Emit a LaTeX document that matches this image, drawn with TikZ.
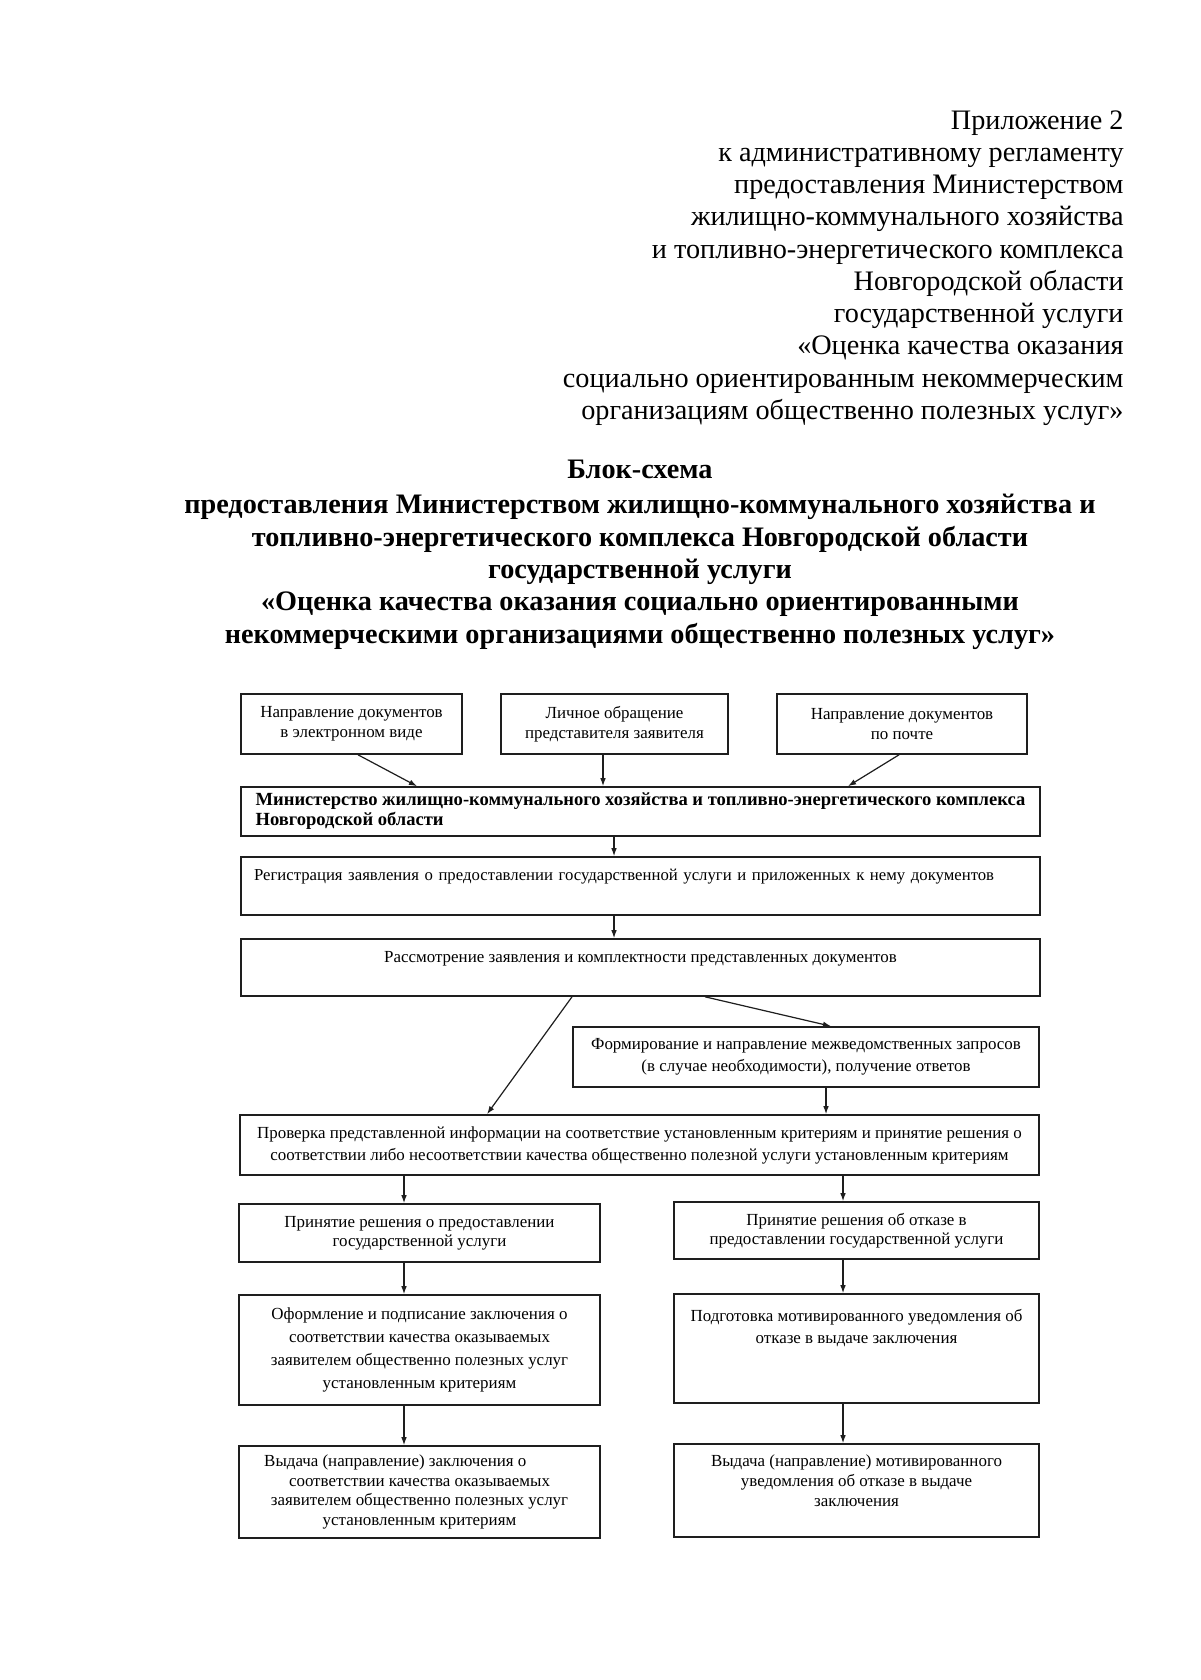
\documentclass[tikz,border=0pt]{standalone}
\usepackage{fontspec}
\setmainfont{Liberation Serif}
\usepackage{tikz}
\usetikzlibrary{arrows.meta}
\usepackage{xcolor}
\definecolor{myblack}{HTML}{1E1E1E}
\newcommand{\pxu}{0.4961pt}
\tikzset{every text node part/.style={align=center}}
\tikzstyle{block} = [draw=myblack, fill=white, inner sep=0pt, line width=0.8pt, font={\fontsize{8.4}{10.9}\selectfont}]
\tikzstyle{lefttext} = [every text node part/.style={align=left}]
\tikzstyle{ln} = [draw=myblack, line width=0.6pt, -{Latex[length=4pt, width=2.8pt]}]

\begin{document}
\begin{tikzpicture}[x=\pxu, y=-\pxu]
  \useasboundingbox (0,0) rectangle (1200,1680);
  % header
  \node[anchor=base east, inner sep=0pt, every text node part/.style={align=right}, font={\fontsize{14}{16}\selectfont}] (appx) at (1124,419.3)
    {Приложение 2\\к административному регламенту\\предоставления Министерством\\жилищно-коммунального хозяйства\\и топливно-энергетического комплекса\\Новгородской области\\государственной услуги\\«Оценка качества оказания\\социально ориентированным некоммерческим\\организациям общественно полезных услуг»};
  \node[anchor=base, inner sep=0pt, font={\bfseries\fontsize{14}{16}\selectfont}] (title) at (640,643)
    {Блок-схема\\[1.5pt]предоставления Министерством жилищно-коммунального хозяйства и\\топливно-энергетического комплекса Новгородской области\\государственной услуги\\«Оценка качества оказания социально ориентированными\\некоммерческими организациями общественно полезных услуг»};
  % incoming
  \node[block, minimum width=221*\pxu, minimum height=60*\pxu, font={\fontsize{8.4}{9.9}\selectfont}] (elect) at (351.5,724) {Направление документов\\в электронном виде};
  \node[block, minimum width=227*\pxu, minimum height=60*\pxu, font={\fontsize{8.4}{9.9}\selectfont}] (pers) at (614.5,724) {Личное обращение\\представителя заявителя};
  \node[block, minimum width=250*\pxu, minimum height=60*\pxu, font={\fontsize{8.4}{9.9}\selectfont}] (post) at (902,724) {Направление документов\\по почте};
  \node[block, lefttext, minimum width=799*\pxu, minimum height=49*\pxu, font={\bfseries\fontsize{9.2}{9.9}\selectfont}] (minist) at (640.5,811.5)
    {Министерство жилищно-коммунального хозяйства и топливно-энергетического комплекса\\Новгородской области};
  \node[block, lefttext, minimum width=799*\pxu, minimum height=58*\pxu, text width=773*\pxu, font={\fontsize{8.3}{10.9}\selectfont}] (reg) at (640.5,886)
    {Регистрация заявления о предоставлении государственной услуги и приложенных к нему документов\\~};
  \node[block, minimum width=799*\pxu, minimum height=57*\pxu] (review) at (640.5,967.5)
    {Рассмотрение заявления и комплектности представленных документов\\~};
  \node[block, minimum width=466*\pxu, minimum height=60*\pxu] (inter) at (806,1057)
    {Формирование и направление межведомственных запросов\\(в случае необходимости), получение ответов};
  \node[block, minimum width=799*\pxu, minimum height=60*\pxu] (check) at (639.5,1145)
    {Проверка представленной информации на соответствие установленным критериям и принятие решения о\\соответствии либо несоответствии качества общественно полезной услуги установленным критериям};
  % two branches
  \node[block, minimum width=361*\pxu, minimum height=58*\pxu, font={\fontsize{8.4}{9.5}\selectfont}] (grant) at (419.5,1233)
    {Принятие решения о предоставлении\\государственной услуги};
  \node[block, minimum width=365*\pxu, minimum height=57*\pxu, font={\fontsize{8.4}{9.5}\selectfont}] (refuse) at (856.5,1230.5)
    {Принятие решения об отказе в\\предоставлении государственной услуги};
  \node[block, minimum width=361*\pxu, minimum height=110*\pxu, font={\fontsize{8.4}{11.4}\selectfont}] (concl) at (419.5,1350)
    {Оформление и подписание заключения о\\соответствии качества оказываемых\\заявителем общественно полезных услуг\\установленным критериям};
  \node[block, minimum width=365*\pxu, minimum height=109*\pxu] (notice) at (856.5,1348.5)
    {Подготовка мотивированного уведомления об\\отказе в выдаче заключения\\~\\~};
  \node[block, minimum width=361*\pxu, minimum height=92*\pxu, font={\fontsize{8.4}{9.8}\selectfont}] (issue) at (419.5,1492)
    {Выдача (направление) заключения о\hspace*{24pt}\\соответствии качества оказываемых\\заявителем общественно полезных услуг\\установленным критериям};
  \node[block, minimum width=365*\pxu, minimum height=93*\pxu, font={\fontsize{8.4}{9.9}\selectfont}] (sendn) at (856.5,1490.5)
    {Выдача (направление) мотивированного\\уведомления об отказе в выдаче\\заключения\\~};
  % connectors
  \draw[ln] ([xshift=6.5*\pxu]elect.south) -- ([xshift=-223.5*\pxu]minist.north);
  \draw[ln] ([xshift=-11.5*\pxu]pers.south) -- ([xshift=-37.5*\pxu]minist.north);
  \draw[ln] ([xshift=-3*\pxu]post.south) -- ([xshift=207.5*\pxu]minist.north);
  \draw[ln] ([xshift=-26.5*\pxu]minist.south) -- ([xshift=-26.5*\pxu]reg.north);
  \draw[ln] ([xshift=-26.5*\pxu]reg.south) -- ([xshift=-26.5*\pxu]review.north);
  \draw[ln] ([xshift=-68.5*\pxu]review.south) -- ([xshift=-152.5*\pxu]check.north);
  \draw[ln] ([xshift=64.5*\pxu]review.south) -- ([xshift=25*\pxu]inter.north);
  \draw[ln] ([xshift=20*\pxu]inter.south) -- ([xshift=186.5*\pxu]check.north);
  \draw[ln] ([xshift=-235.5*\pxu]check.south) -- ([xshift=-15.5*\pxu]grant.north);
  \draw[ln] ([xshift=203.5*\pxu]check.south) -- ([xshift=-13.5*\pxu]refuse.north);
  \draw[ln] ([xshift=-15.5*\pxu]grant.south) -- ([xshift=-15.5*\pxu]concl.north);
  \draw[ln] ([xshift=-13.5*\pxu]refuse.south) -- ([xshift=-13.5*\pxu]notice.north);
  \draw[ln] ([xshift=-15.5*\pxu]concl.south) -- ([xshift=-15.5*\pxu]issue.north);
  \draw[ln] ([xshift=-13.5*\pxu]notice.south) -- ([xshift=-13.5*\pxu]sendn.north);
\end{tikzpicture}
\end{document}
